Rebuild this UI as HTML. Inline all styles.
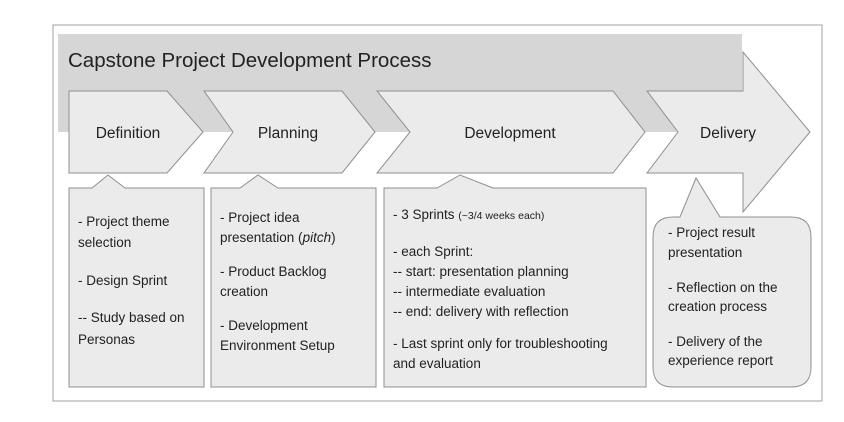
<!DOCTYPE html>
<html><head><meta charset="utf-8"><style>
html,body{margin:0;padding:0;background:#fff;}
svg{display:block;}
text{font-family:"Liberation Sans",Arial,sans-serif;fill:#222;}
</style></head><body>
<svg width="844" height="422" viewBox="0 0 844 422" xmlns="http://www.w3.org/2000/svg">
<rect x="53" y="25" width="769" height="376" fill="#fff" stroke="#a0a0a0" stroke-width="1"/>
<rect x="58" y="34" width="684" height="98" fill="#d6d6d6"/>
<text x="68" y="67" font-size="20.5">Capstone Project Development Process</text>
<g fill="#ebebeb" stroke="#8f8f8f" stroke-width="1">
<polygon points="69,91 167,91 203,132 167,173 69,173"/>
<polygon points="204,91 342,91 375,132 342,173 204,173 233,132"/>
<polygon points="377,91 613,91 645,132 613,173 377,173 410,132"/>
<polygon points="647,91 743,91 743,52 810,132 743,212 743,173 647,173 678,132"/>
<polygon points="69,188 92,188 108,175 125,188 204,188 204,387 69,387"/>
<polygon points="211,188 240,188 258,175 278,188 376,188 376,387 211,387"/>
<polygon points="384,188 437,188 460,175 493,188 646,188 646,387 384,387"/>
<path d="M673,217 L680,217 L696,178 L720,217 L791,217 Q811,217 811,237 L811,367 Q811,387 791,387 L673,387 Q653,387 653,367 L653,237 Q653,217 673,217 Z"/>
</g>
<g font-size="15.5" text-anchor="middle">
<text x="128" y="138">Definition</text>
<text x="288" y="138">Planning</text>
<text x="510" y="138">Development</text>
<text x="728" y="138">Delivery</text>
</g>
<g font-size="13.5">
<text x="78" y="226">- Project theme</text>
<text x="78" y="247">selection</text>
<text x="78" y="285">- Design Sprint</text>
<text x="78" y="322">-- Study based on</text>
<text x="78" y="344">Personas</text>

<text x="220" y="222">- Project idea</text>
<text x="220" y="242">presentation (<tspan font-style="italic">pitch</tspan>)</text>
<text x="220" y="276">- Product Backlog</text>
<text x="220" y="296">creation</text>
<text x="220" y="330">- Development</text>
<text x="220" y="350">Environment Setup</text>

<text x="393" y="219">- 3 Sprints <tspan font-size="10.5">(~3/4 weeks each)</tspan></text>
<text x="393" y="256">- each Sprint:</text>
<text x="393" y="276">-- start: presentation planning</text>
<text x="393" y="296">-- intermediate evaluation</text>
<text x="393" y="316">-- end: delivery with reflection</text>
<text x="393" y="348">- Last sprint only for troubleshooting</text>
<text x="393" y="368">and evaluation</text>

<text x="668" y="237">- Project result</text>
<text x="668" y="257">presentation</text>
<text x="668" y="292">- Reflection on the</text>
<text x="668" y="311">creation process</text>
<text x="668" y="346">- Delivery of the</text>
<text x="668" y="365">experience report</text>
</g>
</svg>
</body></html>
